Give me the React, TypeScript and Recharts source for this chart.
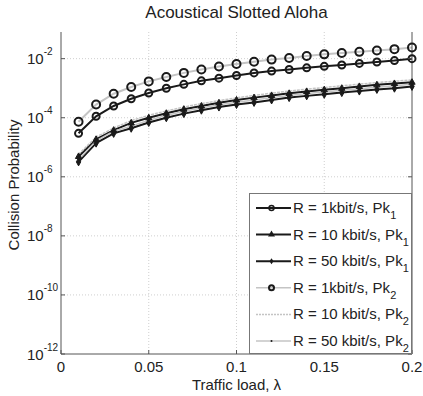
import React from 'react';
import { LineChart, Line, XAxis, YAxis, ReferenceLine, Legend } from 'recharts';

const lambda = [0.01, 0.02, 0.03, 0.04, 0.05, 0.06, 0.07, 0.08, 0.09, 0.1, 0.11, 0.12, 0.13, 0.14, 0.15, 0.16, 0.17, 0.18, 0.19, 0.2];

const pk1R1 = [2.97e-5, 1.12e-4, 2.5e-4, 4.4e-4, 6.9e-4, 1.0e-3, 1.35e-3, 1.78e-3, 2.19e-3, 2.69e-3, 3.3e-3, 3.8e-3, 4.3e-3, 4.9e-3, 5.5e-3, 6.1e-3, 6.9e-3, 7.7e-3, 8.6e-3, 1.0e-2];
const pk1R10 = [4.9e-6, 1.86e-5, 3.8e-5, 6.7e-5, 1.0e-4, 1.42e-4, 1.95e-4, 2.5e-4, 3.2e-4, 4.0e-4, 4.8e-4, 5.7e-4, 6.7e-4, 7.8e-4, 8.9e-4, 1.0e-3, 1.15e-3, 1.31e-3, 1.45e-3, 1.6e-3];
const pk1R50 = [3.2e-6, 1.38e-5, 2.95e-5, 4.4e-5, 6.9e-5, 1.0e-4, 1.38e-4, 1.8e-4, 2.3e-4, 2.8e-4, 3.3e-4, 4.0e-4, 4.8e-4, 5.5e-4, 6.2e-4, 7.1e-4, 8.0e-4, 9.1e-4, 1.0e-3, 1.15e-3];
const pk2R1 = [7.3e-5, 2.8e-4, 6.5e-4, 1.1e-3, 1.7e-3, 2.4e-3, 3.3e-3, 4.3e-3, 5.4e-3, 6.6e-3, 7.9e-3, 9.3e-3, 1.05e-2, 1.23e-2, 1.4e-2, 1.55e-2, 1.7e-2, 1.9e-2, 2.1e-2, 2.4e-2];
const pk2R10 = [5.8e-6, 2.2e-5, 4.5e-5, 8.0e-5, 1.2e-4, 1.7e-4, 2.3e-4, 3.0e-4, 3.8e-4, 4.7e-4, 5.7e-4, 6.8e-4, 8.0e-4, 9.3e-4, 1.06e-3, 1.2e-3, 1.37e-3, 1.55e-3, 1.72e-3, 1.9e-3];
const pk2R50 = [3.8e-6, 1.65e-5, 3.5e-5, 5.2e-5, 8.2e-5, 1.2e-4, 1.65e-4, 2.15e-4, 2.75e-4, 3.35e-4, 3.95e-4, 4.8e-4, 5.7e-4, 6.6e-4, 7.4e-4, 8.5e-4, 9.5e-4, 1.08e-3, 1.2e-3, 1.37e-3];

const xTicks = [0, 0.05, 0.1, 0.15, 0.2];
const xTickLabels = ['0', '0.05', '0.1', '0.15', '0.2'];
const yTicks = [1e-12, 1e-10, 1e-8, 1e-6, 1e-4, 1e-2];
const yTickExps = ['-12', '-10', '-8', '-6', '-4', '-2'];

const legendLabels = ['R = 1kbit/s, Pk', 'R = 10 kbit/s, Pk', 'R = 50 kbit/s, Pk', 'R = 1kbit/s, Pk', 'R = 10 kbit/s, Pk', 'R = 50 kbit/s, Pk'];
const legendSubs = ['1', '1', '1', '2', '2', '2'];
const seriesKeys = ['pk1R1', 'pk1R10', 'pk1R50', 'pk2R1', 'pk2R10', 'pk2R50'];

const data = lambda.map((x, i) => ({
  x,
  pk1R1: pk1R1[i],
  pk1R10: pk1R10[i],
  pk1R50: pk1R50[i],
  pk2R1: pk2R1[i],
  pk2R10: pk2R10[i],
  pk2R50: pk2R50[i],
}));

const FONT = '"Liberation Sans", Arial, sans-serif';
const AXIS = '#555';
const BLACK = '#1a1a1a';
const GRAY = '#c4c4c4';
const GRID = '#cfcfcf';

const circleDot = (r: number) => (p: any) => {
  if (p.cx == null || p.cy == null) return <g key={p.index} />;
  return <circle key={p.index} cx={p.cx} cy={p.cy} r={r} fill="none" stroke={BLACK} strokeWidth={2} />;
};
const triDot = (s: number) => (p: any) => {
  if (p.cx == null || p.cy == null) return <g key={p.index} />;
  const { cx, cy } = p;
  return <path key={p.index} d={`M${cx},${cy - s} L${cx + s * 0.9},${cy + s * 0.6} L${cx - s * 0.9},${cy + s * 0.6} Z`} fill={BLACK} stroke={BLACK} strokeWidth={1} />;
};
const diaDot = (s: number) => (p: any) => {
  if (p.cx == null || p.cy == null) return <g key={p.index} />;
  const { cx, cy } = p;
  return <path key={p.index} d={`M${cx},${cy - s} L${cx + s * 0.55},${cy} L${cx},${cy + s} L${cx - s * 0.55},${cy} Z`} fill={BLACK} stroke={BLACK} strokeWidth={1} />;
};
const pointDot = (p: any) => {
  if (p.cx == null || p.cy == null) return <g key={p.index} />;
  return <circle key={p.index} cx={p.cx} cy={p.cy} r={1} fill={BLACK} />;
};

const XTick = (props: any) => {
  const { x, y, payload } = props;
  const idx = xTicks.indexOf(payload.value);
  return (
    <g>
      <line x1={x} y1={y} x2={x} y2={y - 4} stroke={AXIS} />
      <text x={x} y={y + 18} textAnchor="middle" fontSize={15} fontFamily={FONT} fill="#222">
        {idx >= 0 ? xTickLabels[idx] : ''}
      </text>
    </g>
  );
};
const XTopTick = (props: any) => {
  const { x, y } = props;
  return <line x1={x} y1={y} x2={x} y2={y + 4} stroke={AXIS} />;
};
const YTick = (props: any) => {
  const { x, y, payload } = props;
  const idx = yTicks.findIndex((t) => Math.abs(Math.log10(t) - Math.log10(payload.value)) < 1e-6);
  return (
    <g>
      <line x1={x} y1={y} x2={x + 4} y2={y} stroke={AXIS} />
      <text x={x - 34} y={y + 5.5} fontSize={15} fontFamily={FONT} fill="#222">
        <tspan>10</tspan>
        <tspan dy={-9} fontSize={10}>{idx >= 0 ? yTickExps[idx] : ''}</tspan>
      </text>
    </g>
  );
};
const YRightTick = (props: any) => {
  const { x, y } = props;
  return <line x1={x} y1={y} x2={x - 4} y2={y} stroke={AXIS} />;
};

const sampleMarker = (i: number, cx: number, cy: number) => {
  if (i === 0) return <circle cx={cx} cy={cy} r={2.5} fill="none" stroke={BLACK} strokeWidth={1.5} />;
  if (i === 1) return <path d={`M${cx},${cy - 4} L${cx + 3.5},${cy + 2} L${cx - 3.5},${cy + 2} Z`} fill={BLACK} />;
  if (i === 2) return <path d={`M${cx},${cy - 3} L${cx + 2},${cy} L${cx},${cy + 3} L${cx - 2},${cy} Z`} fill={BLACK} />;
  if (i === 3) return <circle cx={cx} cy={cy} r={2.5} fill="none" stroke={BLACK} strokeWidth={2} />;
  if (i === 5) return <circle cx={cx} cy={cy} r={1} fill={BLACK} />;
  return null;
};

const LegendBox = () => (
  <div style={{ width: 163, height: 161, border: '1px solid #777', background: '#fff', boxSizing: 'border-box' }}>
    <svg width={161} height={159} style={{ display: 'block' }}>
      {seriesKeys.map((k, i) => {
        const cy = 14 + i * 26.6;
        const pk2 = i >= 3;
        return (
          <g key={k}>
            <line x1={6} x2={41} y1={cy} y2={cy} stroke={pk2 ? GRAY : BLACK} strokeWidth={pk2 ? 1.5 : 2} strokeDasharray={i === 4 ? '2 1' : undefined} />
            {sampleMarker(i, 21.5, cy)}
            <text x={43} y={cy + 5} fontSize={15} fontFamily={FONT} fill="#222">
              <tspan>{legendLabels[i]}</tspan>
              <tspan dy={6} fontSize={11}>{legendSubs[i]}</tspan>
            </text>
          </g>
        );
      })}
    </svg>
  </div>
);

export default function App() {
  return (
    <div style={{ position: 'absolute', left: 0, top: 0, width: 423, height: 396, background: '#fff' }}>
      <div style={{ position: 'absolute', left: 61, width: 351, top: 3, textAlign: 'center', fontFamily: FONT, fontSize: 17, color: '#222' }}>
        Acoustical Slotted Aloha
      </div>
      <LineChart width={423} height={396} data={data} margin={{ top: 32, right: 0, bottom: 0, left: 0 }}>
        <XAxis
          xAxisId="b"
          dataKey="x"
          type="number"
          domain={[0, 0.2]}
          ticks={xTicks}
          height={42}
          tick={<XTick />}
          tickLine={false}
          tickSize={0}
          tickMargin={0}
          axisLine={{ stroke: AXIS }}
          interval={0}
          label={{ value: 'Traffic load, λ', position: 'insideBottom', offset: 6, style: { fontSize: 15, fontFamily: FONT, fill: '#222' } }}
        />
        <XAxis
          xAxisId="t"
          dataKey="x"
          type="number"
          orientation="top"
          domain={[0, 0.2]}
          ticks={xTicks}
          height={0}
          tick={<XTopTick />}
          tickLine={false}
          tickSize={0}
          tickMargin={0}
          axisLine={{ stroke: AXIS }}
          interval={0}
        />
        <YAxis
          yAxisId="l"
          scale="log"
          type="number"
          domain={[1e-12, 0.08]}
          allowDataOverflow
          ticks={yTicks}
          width={61}
          tick={<YTick />}
          tickLine={false}
          tickSize={0}
          tickMargin={0}
          axisLine={{ stroke: AXIS }}
          interval={0}
          label={(p: any) => {
            const vb = p.viewBox || { y: 32, height: 322 };
            const cy = vb.y + vb.height / 2 - 8;
            return (
              <text transform={`translate(13,${cy}) rotate(-90)`} textAnchor="middle" dominantBaseline="central" fontSize={15} fontFamily={FONT} fill="#222">
                Collision Probability
              </text>
            );
          }}
        />
        <YAxis
          yAxisId="r"
          orientation="right"
          scale="log"
          type="number"
          domain={[1e-12, 0.08]}
          allowDataOverflow
          ticks={yTicks}
          width={11}
          tick={<YRightTick />}
          tickLine={false}
          tickSize={0}
          tickMargin={0}
          axisLine={{ stroke: AXIS }}
          interval={0}
        />
        {xTicks.slice(1, -1).map((t) => (
          <ReferenceLine key={'gx' + t} xAxisId="b" yAxisId="l" x={t} stroke={GRID} strokeDasharray="1 2" />
        ))}
        {yTicks.slice(1).map((t) => (
          <ReferenceLine key={'gy' + t} xAxisId="b" yAxisId="l" y={t} stroke={GRID} strokeDasharray="1 2" />
        ))}
        <Line xAxisId="b" yAxisId="l" dataKey="pk1R1" stroke={BLACK} strokeWidth={2} dot={circleDot(3.5)} isAnimationActive={false} />
        <Line xAxisId="b" yAxisId="l" dataKey="pk1R10" stroke={BLACK} strokeWidth={2} dot={triDot(3.5)} isAnimationActive={false} />
        <Line xAxisId="b" yAxisId="l" dataKey="pk1R50" stroke={BLACK} strokeWidth={2} dot={diaDot(4)} isAnimationActive={false} />
        <Line xAxisId="b" yAxisId="l" dataKey="pk2R1" stroke={GRAY} strokeWidth={2} dot={circleDot(4)} isAnimationActive={false} />
        <Line xAxisId="b" yAxisId="l" dataKey="pk2R10" stroke={GRAY} strokeWidth={1.5} strokeDasharray="3 1" dot={false} isAnimationActive={false} />
        <Line xAxisId="b" yAxisId="l" dataKey="pk2R50" stroke={GRAY} strokeWidth={1.5} dot={pointDot} isAnimationActive={false} />
        <Legend
          layout="vertical"
          align="center"
          verticalAlign="middle"
          content={<LegendBox />}
          wrapperStyle={{ position: 'absolute', left: 249, top: 193, width: 163, height: 161 }}
        />
      </LineChart>
    </div>
  );
}
